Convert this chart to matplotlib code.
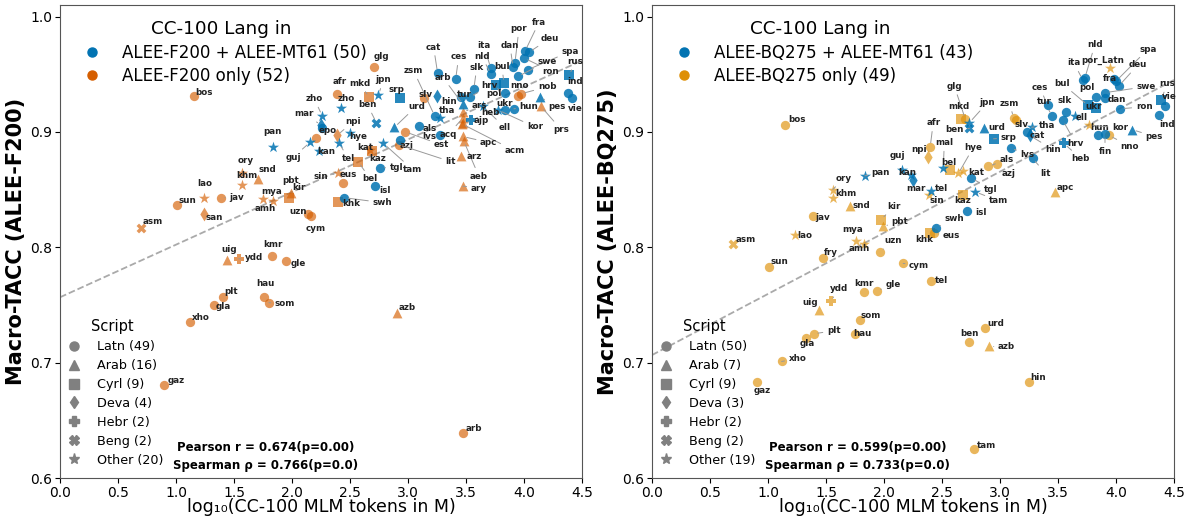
import numpy as np
import matplotlib.pyplot as plt
from matplotlib.lines import Line2D

# ---------------- left panel: ALEE-F200 ----------------
f200_lang = ["cat", "ces", "arb", "ita", "nld", "slk", "hrv", "tur", "bul", "ukr",
             "pol", "por", "fra", "dan", "deu", "spa", "swe", "ron", "rus", "ind",
             "vie", "pes", "hun", "", "kor", "ell", "heb", "hin", "tha", "zsm",
             "urd", "als", "lvs", "azj", "tam", "tgl", "isl", "swh", "srp", "ben",
             "jpn", "zho", "zho", "mar", "", "hye", "pan", "guj", "kan", "tel",
             # F200 only
             "ars", "acq", "ajp", "acm", "apc", "aeb", "arz", "ary", "azb", "uig",
             "snd", "pbt", "prs", "glg", "afr", "slv", "nno", "nob", "est", "lit",
             "eus", "bos", "sun", "jav", "uzn", "cym", "kmr", "gle", "plt", "gla",
             "hau", "som", "xho", "gaz", "arb", "epo", "ory", "khm", "lao", "mya",
             "amh", "sin", "kat", "npi", "san", "ydd", "asm", "mkd", "kaz", "bel",
             "kir", "khk"]
f200_tokens = [3.255, 3.411, 3.472, 3.714, 3.714, 3.567, 3.532, 3.455, 3.827, 3.758,
               3.835, 3.922, 4.009, 3.905, 4.043, 4.035, 3.948, 4.000, 4.390, 4.381,
               4.416, 4.139, 3.913, 3.835, 3.775, 3.645, 3.541, 3.247, 3.273, 3.229,
               2.883, 3.091, 3.273, 2.935, 2.788, 2.762, 2.719, 2.450, 2.935, 2.727,
               2.745, 2.424, 2.260, 2.251, 2.260, 2.502, 1.835, 2.156, 2.234, 2.407,
               3.472, 3.472, 3.472, 3.463, 3.472, 3.481, 3.455, 3.472, 2.909, 1.437,
               1.706, 1.991, 4.147, 2.710, 2.390, 3.134, 3.948, 3.974, 2.978, 2.918,
               2.442, 1.152, 1.004, 1.385, 2.139, 2.165, 1.827, 1.948, 1.403, 1.325,
               1.758, 1.801, 1.117, 0.900, 3.472, 2.208, 1.567, 1.567, 1.238, 1.749,
               1.835, 2.398, 2.675, 2.390, 1.238, 1.541, 0.701, 2.667, 2.693, 2.571,
               1.974, 2.398]
f200_tacc = [0.951, 0.946, 0.924, 0.955, 0.950, 0.937, 0.930, 0.930, 0.942, 0.941,
             0.934, 0.960, 0.970, 0.956, 0.969, 0.954, 0.948, 0.964, 0.949, 0.934,
             0.929, 0.930, 0.920, 0.919, 0.919, 0.922, 0.910, 0.931, 0.912, 0.914,
             0.904, 0.905, 0.897, 0.893, 0.890, 0.869, 0.853, 0.843, 0.929, 0.908,
             0.932, 0.921, 0.914, 0.906, 0.903, 0.899, 0.887, 0.891, 0.883, 0.890,
             0.917, 0.912, 0.908, 0.907, 0.896, 0.892, 0.879, 0.853, 0.743, 0.789,
             0.859, 0.847, 0.922, 0.956, 0.933, 0.929, 0.931, 0.933, 0.900, 0.889,
             0.856, 0.931, 0.837, 0.843, 0.829, 0.827, 0.792, 0.788, 0.757, 0.750,
             0.757, 0.752, 0.735, 0.681, 0.639, 0.895, 0.864, 0.854, 0.843, 0.842,
             0.840, 0.864, 0.884, 0.897, 0.829, 0.790, 0.817, 0.930, 0.883, 0.874,
             0.843, 0.839]
f200_in_mt61 = [True] * 50 + [False] * 52
f200_script = (["Latn", "Latn", "Arab", "Latn", "Latn", "Latn", "Latn", "Latn", "Cyrl", "Cyrl",
                "Latn", "Latn", "Latn", "Latn", "Latn", "Latn", "Latn", "Latn", "Cyrl", "Latn",
                "Latn", "Arab", "Latn", "Latn", "Other", "Other", "Hebr", "Deva", "Other", "Latn",
                "Arab", "Latn", "Latn", "Latn", "Other", "Latn", "Latn", "Latn", "Cyrl", "Beng",
                "Other", "Other", "Other", "Deva", "Latn", "Other", "Other", "Other", "Other", "Other"]
               + ["Arab"] * 13 + ["Latn"] * 23 + ["Other"] * 7
               + ["Deva", "Deva", "Hebr", "Beng", "Cyrl", "Cyrl", "Cyrl", "Cyrl", "Cyrl"])
# label offsets in pixels (right, up) from each point
f200_label_off = [(-4, 26), (3, 22), (-20, 27), (-7, 23), (-9, 18), (3, 22), (20, 12), (4, 3), (-2, 17), (9, -19),
                  (-11, -1), (4, 34), (14, 29), (-3, 22), (21, 14), (42, 18), (29, 15), (27, -13), (6, 14), (7, 11),
                  (3, -10), (17, -9), (15, 2), (0, 0), (37, -17), (22, -21), (20, 8), (12, -5), (7, 8), (-21, 45),
                  (22, 21), (11, -2), (-10, -1), (6, -6), (29, -26), (16, 0), (10, -4), (38, -5), (-4, 9), (-9, 18),
                  (5, 15), (5, 9), (-8, 17), (-17, 11), (0, 0), (8, -3), (0, 15), (-17, -15), (7, 0), (9, -15),
                  (17, 7), (-14, -16), (18, 2), (53, -27), (26, -6), (15, -35), (13, 0), (16, -2), (10, 6), (2, 10),
                  (9, 10), (0, 13), (20, -23), (7, 11), (2, 12), (2, 4), (2, 11), (26, 7), (36, -13), (52, -17),
                  (5, 8), (10, 4), (11, 4), (16, 0), (-10, 2), (5, -12), (1, 12), (12, -2), (8, 5), (10, -2),
                  (1, 13), (16, -1), (11, 5), (12, 4), (11, 5), (12, 7), (4, 13), (5, 9), (1, 14), (9, 7),
                  (-8, -7), (-17, -3), (-5, 3), (16, 14), (11, -4), (15, 1), (11, 6), (-10, 14), (5, -7), (12, -17),
                  (10, 10), (13, -1)]

# ---------------- right panel: ALEE-BQ275 ----------------
bq275_lang = ["ita", "nld", "fra", "spa", "deu", "swe", "dan", "pol", "bul", "ukr",
              "ron", "rus", "vie", "ind", "ces", "tur", "slk", "hrv", "heb", "ell",
              "hun", "fin", "pes", "tha", "cat", "hin", "srp", "lvs", "lit", "urd",
              "jpn", "ben", "mal", "tgl", "tam", "isl", "swh", "tel", "mar", "kan",
              "guj", "pan",
              # BQ275 only
              "por_Latn", "kor", "nno", "zsm", "slv", "glg", "mkd", "afr", "npi", "bel",
              "hye", "kat", "als", "azj", "sin", "kaz", "apc", "khk", "eus", "bos",
              "ory", "khm", "snd", "jav", "kir", "pbt", "asm", "lao", "mya", "amh",
              "fry", "sun", "uzn", "cym", "tel", "ydd", "uig", "kmr", "gle", "som",
              "plt", "hau", "gla", "xho", "gaz", "urd", "ben", "azb", "hin", "tam"]
bq275_tokens = [3.714, 3.732, 3.983, 4.000, 4.026, 3.905, 3.905, 3.827, 3.758, 3.827,
                4.035, 4.390, 4.424, 4.372, 3.411, 3.446, 3.567, 3.541, 3.550, 3.645,
                3.844, 3.905, 4.139, 3.273, 3.229, 3.255, 2.944, 3.091, 3.281, 2.866,
                2.736, 2.736, 2.511, 2.753, 2.788, 2.719, 2.450, 2.407, 2.251, 2.234,
                2.156, 1.835,
                3.948, 3.766, 3.939, 3.117, 3.134, 2.701, 2.667, 2.398, 2.381, 2.571,
                2.641, 2.684, 2.900, 2.978, 2.390, 2.684, 3.472, 2.398, 2.433, 1.143,
                1.558, 1.558, 1.706, 1.385, 1.974, 1.991, 0.701, 1.229, 1.758, 1.827,
                1.472, 1.004, 1.965, 2.165, 2.407, 1.541, 1.437, 1.827, 1.939, 1.792,
                1.394, 1.749, 1.325, 1.117, 0.909, 2.874, 2.736, 2.909, 3.247, 2.779]
bq275_tacc = [0.945, 0.947, 0.946, 0.944, 0.940, 0.934, 0.929, 0.930, 0.923, 0.921,
              0.920, 0.928, 0.922, 0.915, 0.923, 0.914, 0.917, 0.910, 0.890, 0.914,
              0.897, 0.898, 0.902, 0.904, 0.900, 0.897, 0.894, 0.886, 0.877, 0.903,
              0.908, 0.903, 0.869, 0.860, 0.848, 0.831, 0.817, 0.849, 0.858, 0.863,
              0.867, 0.862,
              0.955, 0.906, 0.897, 0.912, 0.910, 0.911, 0.911, 0.887, 0.878, 0.867,
              0.864, 0.866, 0.870, 0.872, 0.845, 0.845, 0.848, 0.812, 0.812, 0.906,
              0.850, 0.843, 0.836, 0.827, 0.824, 0.818, 0.803, 0.811, 0.805, 0.803,
              0.791, 0.783, 0.796, 0.786, 0.771, 0.753, 0.746, 0.761, 0.762, 0.737,
              0.725, 0.725, 0.721, 0.701, 0.683, 0.730, 0.718, 0.714, 0.683, 0.625]
bq275_in_mt61 = [True] * 42 + [False] * 50
bq275_script = (["Latn", "Latn", "Latn", "Latn", "Latn", "Latn", "Latn", "Latn", "Cyrl", "Cyrl",
                 "Latn", "Cyrl", "Latn", "Latn", "Latn", "Latn", "Latn", "Latn", "Hebr", "Other",
                 "Latn", "Latn", "Arab", "Other", "Latn", "Deva", "Cyrl", "Latn", "Latn", "Arab",
                 "Other", "Beng", "Other", "Latn", "Other", "Latn", "Latn", "Other", "Deva", "Other",
                 "Other", "Other"]
                + ["Other", "Other", "Latn", "Latn", "Latn", "Latn", "Cyrl", "Latn", "Deva", "Cyrl",
                   "Other", "Other", "Latn", "Latn", "Other", "Cyrl", "Arab", "Cyrl", "Latn", "Latn",
                   "Other", "Other", "Arab", "Latn", "Cyrl", "Arab", "Beng", "Other", "Other", "Other",
                   "Latn", "Latn", "Latn", "Latn", "Latn", "Hebr", "Arab", "Latn", "Latn", "Latn",
                   "Latn", "Latn", "Latn", "Latn", "Latn", "Latn", "Latn", "Arab", "Latn", "Latn"])
bq275_label_off = [(-9, 17), (10, 33), (-4, 0), (32, 32), (19, 21), (41, 6), (12, -1), (-9, 10), (-26, 22), (-2, 1),
                   (24, 2), (6, 16), (4, 10), (8, -10), (-8, 18), (-7, 14), (-1, 12), (13, -23), (17, -15), (7, -2),
                   (2, 8), (0, -17), (22, -7), (15, 2), (11, -4), (23, -14), (15, 1), (17, -6), (13, -15), (12, 1),
                   (18, 20), (-15, -1), (1, 25), (19, -11), (23, -9), (14, -1), (18, 9), (10, 2), (3, -8), (-4, 2),
                   (-5, 14), (16, 3),
                   (-7, 8), (31, -3), (21, -11), (-4, 15), (6, -4), (-11, 33), (-3, 13), (3, 24), (-9, 8), (-1, 7),
                   (15, 26), (13, -1), (18, 7), (11, -9), (8, -5), (-1, -5), (11, 4), (-6, -6), (17, -2), (12, 5),
                   (11, 11), (13, 4), (11, 0), (10, -1), (13, 13), (17, 5), (12, 4), (10, -1), (-3, 12), (-5, -5),
                   (8, 5), (11, 5), (13, 11), (16, -2), (10, 0), (8, 13), (-9, 7), (0, 9), (16, 7), (11, 4),
                   (20, 3), (8, 0), (2, -5), (16, 3), (5, -8), (10, 5), (0, 8), (17, 0), (9, 5), (12, 4)]

script_order = ["Latn", "Arab", "Cyrl", "Deva", "Hebr", "Beng", "Other"]
script_marker = {"Latn": "o", "Arab": "^", "Cyrl": "s", "Deva": "d",
                 "Hebr": "P", "Beng": "X", "Other": "*"}
marker_size = {"Latn": 45, "Arab": 50, "Cyrl": 45, "Deva": 50,
               "Hebr": 50, "Beng": 50, "Other": 70}
f200_script_counts = [49, 16, 9, 4, 2, 2, 20]
bq275_script_counts = [50, 7, 9, 3, 2, 2, 19]

BLUE = "#0173b2"


def draw_panel(ax, names, xs, ys, in_mt61, scripts, offsets, only_color,
               group_labels, script_counts, stats_lines, ylabel):
    xs = np.array(xs)
    ys = np.array(ys)
    in_mt61 = np.array(in_mt61)
    scripts = np.array(scripts)

    # regression line across the full x range
    k, b = np.polyfit(xs, ys, 1)
    xl = np.array([0, 4.5])
    ax.plot(xl, k * xl + b, ls="--", color="#aaaaaa", lw=1.3, zorder=1)

    for grp, col, alpha in [(False, only_color, 0.65), (True, BLUE, 0.85)]:
        for s in script_order:
            m = (in_mt61 == grp) & (scripts == s)
            if m.any():
                ax.scatter(xs[m], ys[m], marker=script_marker[s], s=marker_size[s],
                           color=col, alpha=alpha, linewidths=0, zorder=2)

    for name, x, y, (dx, dy) in zip(names, xs, ys, offsets):
        if not name:
            continue
        far = np.hypot(dx, dy) > 15
        ax.annotate(name, (x, y), xytext=(dx, dy), textcoords="offset pixels",
                    ha="center", va="center", fontsize=6.3, fontweight="bold",
                    color="#222222", zorder=4,
                    arrowprops=dict(arrowstyle="-", color="#999999", lw=0.7,
                                    shrinkA=1, shrinkB=3) if far else None)

    ax.set_xlim(0, 4.5)
    ax.set_ylim(0.6, 1.01)
    ax.set_xticks(np.arange(0, 4.51, 0.5))
    ax.set_yticks([0.6, 0.7, 0.8, 0.9, 1.0])
    ax.tick_params(labelsize=10, pad=2)
    ax.set_xlabel("log\u2081\u2080(CC-100 MLM tokens in M)", fontsize=12.5, labelpad=-1)
    ax.set_ylabel(ylabel, fontsize=15, fontweight="bold", labelpad=3)
    for sp in ax.spines.values():
        sp.set_color("#555555")

    h1 = [Line2D([], [], marker="o", ls="", color=BLUE, markersize=6.5),
          Line2D([], [], marker="o", ls="", color=only_color, markersize=6.5)]
    leg1 = ax.legend(h1, group_labels, title="CC-100 Lang in", loc="upper left",
                     bbox_to_anchor=(0.0, 1.0), frameon=False, fontsize=12,
                     title_fontsize=13.2, labelspacing=0.34)
    ax.add_artist(leg1)

    h2 = [Line2D([], [], marker=script_marker[s], ls="", color="#808080",
                 markersize=8 if s == "Other" else 6.5) for s in script_order]
    l2 = [f"{s} ({c})" for s, c in zip(script_order, script_counts)]
    ax.legend(h2, l2, title="Script", loc="lower left", bbox_to_anchor=(-0.02, 0.0),
              frameon=False, fontsize=9.2, title_fontsize=10.5, labelspacing=0.46)

    for frac_y, line in zip([0.0655, 0.0275], stats_lines):
        ax.text(0.394, frac_y, line, transform=ax.transAxes, ha="center", va="center",
                fontsize=8.5, fontweight="bold")


fig = plt.figure(figsize=(11.89, 5.17), dpi=100)
ax1 = fig.add_axes([0.0505, 0.0754, 0.439, 0.915])
ax2 = fig.add_axes([0.5484, 0.0754, 0.439, 0.915])

draw_panel(ax1, f200_lang, f200_tokens, f200_tacc, f200_in_mt61, f200_script,
           f200_label_off, "#d55e00",
           ["ALEE-F200 + ALEE-MT61 (50)", "ALEE-F200 only (52)"],
           f200_script_counts,
           ["Pearson r = 0.674(p=0.00)", "Spearman \u03c1 = 0.766(p=0.0)"],
           "Macro-TACC (ALEE-F200)")
draw_panel(ax2, bq275_lang, bq275_tokens, bq275_tacc, bq275_in_mt61, bq275_script,
           bq275_label_off, "#de8f05",
           ["ALEE-BQ275 + ALEE-MT61 (43)", "ALEE-BQ275 only (49)"],
           bq275_script_counts,
           ["Pearson r = 0.599(p=0.00)", "Spearman \u03c1 = 0.733(p=0.0)"],
           "Macro-TACC (ALEE-BQ275)")

fig.savefig("out.png", dpi=100)
